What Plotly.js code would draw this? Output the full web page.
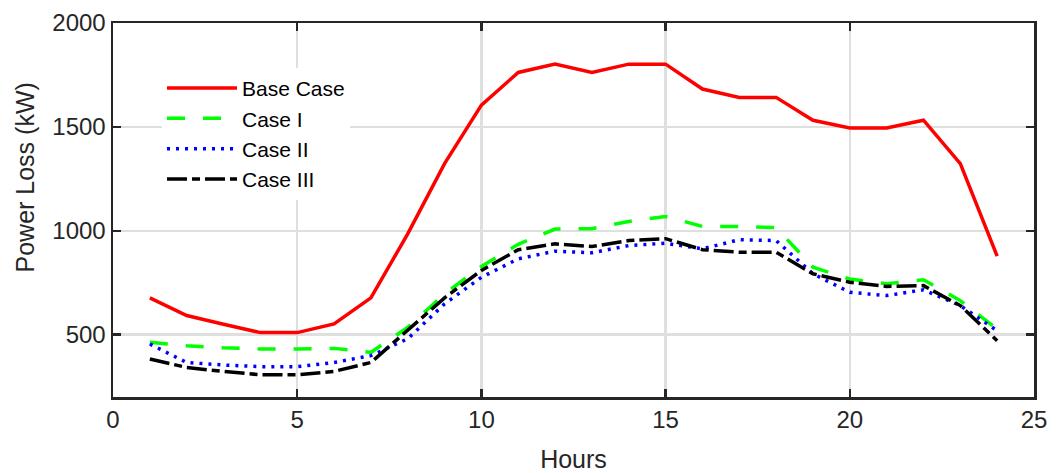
<!DOCTYPE html>
<html>
<head>
<meta charset="utf-8">
<script src="https://cdn.plot.ly/plotly-3.0.1.min.js"></script>
<style>html,body{margin:0;padding:0;background:#fff;}#chart{width:1064px;height:473px;}</style>
</head>
<body>
<div id="chart"></div>
<script>
const hours = [1,2,3,4,5,6,7,8,9,10,11,12,13,14,15,16,17,18,19,20,21,22,23,24];
const baseCase = [677,592,550,510,510,552,677,985,1323,1605,1762,1802,1762,1802,1802,1682,1642,1642,1532,1495,1495,1532,1323,878];
const caseI   = [463,447,437,431,431,434,415,535,696,828,935,1008,1010,1045,1069,1021,1021,1015,825,768,745,764,664,527];
const caseII  = [455,366,354,346,346,366,399,480,648,776,865,902,894,929,940,913,957,953,793,704,688,716,640,519];
const caseIII = [383,342,323,307,307,323,366,519,677,809,909,937,924,953,962,909,897,897,793,752,732,736,640,471];
const seriesNames = ['Base Case','Case I','Case II','Case III'];
const xTicks = [0,5,10,15,20,25];
const yTicks = [500,1000,1500,2000];
const xTitle = 'Hours';
const yTitle = 'Power Loss (kW)';

const axisColor = '#262626';
const font = 'Liberation Sans, Arial, Helvetica, sans-serif';

const traces = [
  {x: hours, y: baseCase, name: seriesNames[0], mode: 'lines', line: {color: '#ff0000', width: 3.5}},
  {x: hours, y: caseI, name: seriesNames[1], mode: 'lines', line: {color: '#00ff00', width: 3.5, dash: '18px,18px'}},
  {x: hours, y: caseII, name: seriesNames[2], mode: 'lines', line: {color: '#0000ff', width: 3.5, dash: '3px,6px'}},
  {x: hours, y: caseIII, name: seriesNames[3], mode: 'lines', line: {color: '#000000', width: 3.5, dash: '20px,5px,8px,5px'}}
];

const layout = {
  width: 1064, height: 473,
  margin: {l: 113, r: 30, t: 23, b: 76},
  paper_bgcolor: '#ffffff', plot_bgcolor: '#ffffff',
  font: {family: font, color: axisColor, size: 24},
  showlegend: true,
  legend: {
    x: 0.0532, y: 0.88, xanchor: 'left', yanchor: 'top',
    bgcolor: '#ffffff', borderwidth: 0,
    font: {family: font, size: 21, color: '#000000'},
    itemwidth: 70, tracegroupgap: 0
  },
  xaxis: {
    range: [0, 25], tickvals: xTicks, ticktext: xTicks.map(String),
    showgrid: true, gridcolor: '#dfdfdf', gridwidth: 2.5,
    zeroline: false, showline: true, linecolor: axisColor, linewidth: 2.5, mirror: 'ticks',
    ticks: 'inside', ticklen: 8, tickwidth: 2.5, tickcolor: axisColor,
    tickfont: {family: font, size: 24, color: axisColor},
    title: {text: xTitle, font: {family: font, size: 25, color: axisColor}, standoff: 19}
  },
  yaxis: {
    range: [200, 2000], tickvals: yTicks, ticktext: yTicks.map(String),
    showgrid: true, gridcolor: '#dfdfdf', gridwidth: 2.5,
    zeroline: false, showline: true, linecolor: axisColor, linewidth: 2.5, mirror: 'ticks',
    ticks: 'inside', ticklen: 8, tickwidth: 2.5, tickcolor: axisColor,
    tickfont: {family: font, size: 24, color: axisColor}
  },
  annotations: [{
    text: yTitle, xref: 'paper', yref: 'paper',
    x: (24 - 113) / 921, y: (397 - 177.5) / 374,
    xanchor: 'center', yanchor: 'middle', textangle: -90, showarrow: false,
    font: {family: font, size: 25, color: axisColor}
  }]
};

Plotly.newPlot('chart', traces, layout, {displayModeBar: false, staticPlot: true});
</script>
</body>
</html>
